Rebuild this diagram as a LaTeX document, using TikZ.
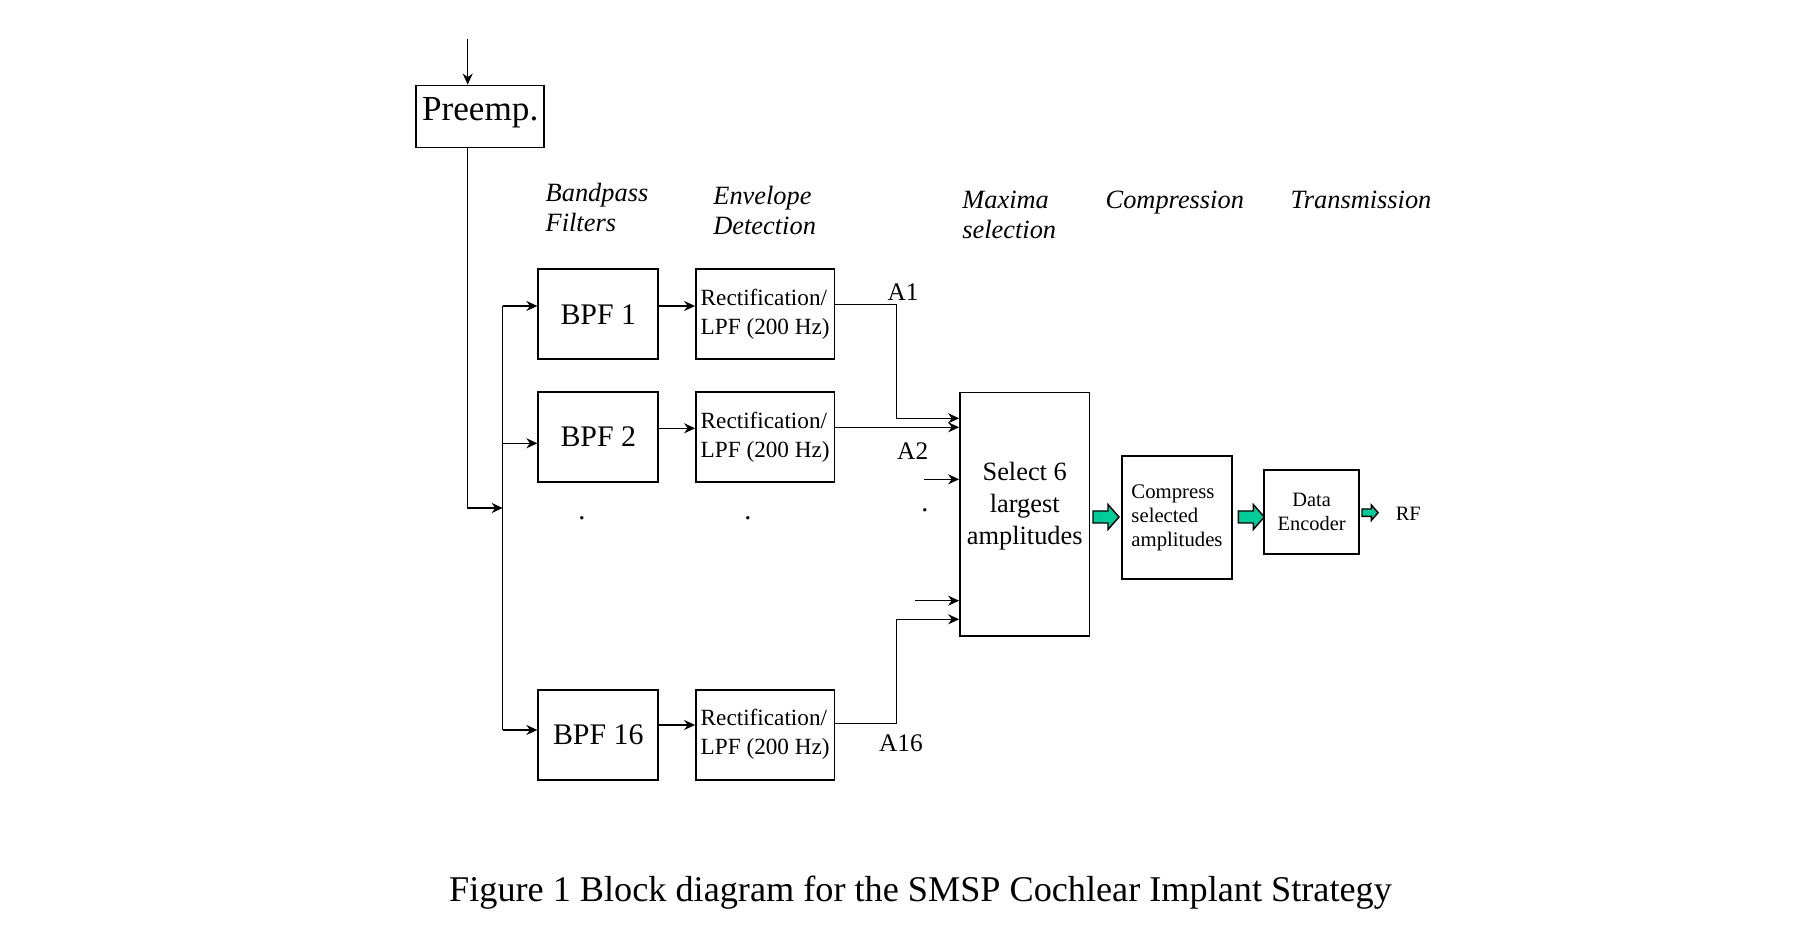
\documentclass[tikz,border=0pt]{standalone}
\usepackage{fontspec}
\setmainfont{Liberation Serif}
\usetikzlibrary{arrows.meta}

\definecolor{fillGreen}{RGB}{0,204,153}

\tikzset{
  box/.style={draw, line width=0.5pt, inner sep=0pt, align=center},
  sig/.style={-{Stealth[length=1.1mm, width=1mm]}, line width=0.45pt},
  wire/.style={line width=0.45pt},
  lbl/.style={inner sep=0pt, font=\fontsize{7.2}{8.6}\selectfont},
  heading/.style={inner sep=0pt, align=left, anchor=base west,
    font=\fontsize{7.5}{8.6}\selectfont\itshape},
  garrow/.style={draw, fill=fillGreen, line width=0.4pt},
}

\begin{document}
\begin{tikzpicture}[x=0.01cm, y=-0.01cm]%
  \useasboundingbox (0,0) rectangle (1811,943);

  % preemphasis
  \coordinate (in) at (467.7,39);
  \node[box, minimum width=1.28cm, minimum height=0.62cm, text depth=4.2pt,
    font=\fontsize{10}{12}\selectfont] (pre) at (480.2,116.5) {Preemp.};
  \draw[sig] (in) -- (in |- pre.north);

  % filter bank
  \foreach \n/\y in {1/314.3, 2/437, 16/734.7} {
    \node[box, minimum width=1.2cm, minimum height=0.9cm,
      font=\fontsize{8.5}{10}\selectfont] (bpf\n) at (598.3,\y) {BPF \n};
    \node[box, minimum width=1.383cm, minimum height=0.9cm, align=left,
      font=\fontsize{6.6}{8.3}\selectfont] (rect\n) at (765.2,\y)
      {Rectification/\\LPF (200 Hz)};
  }

  % bus
  \coordinate (split) at (502.7,508);
  \coordinate (bus1) at (502.7,306);
  \coordinate (bus2) at (502.7,443.3);
  \coordinate (bus16) at (502.7,730);
  \draw[sig] (pre.south -| in) |- (split);
  \draw[wire] (bus1) -- (bus16);
  \foreach \n in {1, 2, 16}
    \draw[sig] (bus\n) -- (bus\n -| bpf\n.west);
  \draw[sig] (bpf1.east |- 0,306) -- (rect1.west |- 0,306);
  \draw[sig] (bpf2.east |- 0,428.3) -- (rect2.west |- 0,428.3);
  \draw[sig] (bpf16.east |- 0,725) -- (rect16.west |- 0,725);

  % maxima selection
  \node[box, minimum width=1.293cm, minimum height=2.433cm, text depth=6.3pt,
    font=\fontsize{7.5}{9.1}\selectfont] (sel) at (1024.7,514.3)
    {Select 6\\largest\\amplitudes};
  \coordinate (a1) at (896.7,418.3);
  \coordinate (a16) at (896.7,619.3);
  \coordinate (x1) at (924,479.3);
  \coordinate (x2) at (915,600.7);
  \draw[sig] (rect1.east |- 0,304.3) -| (a1) -- (a1 -| sel.west);
  \draw[sig] (rect2.east |- 0,427.3) -- (sel.west |- 0,427.3);
  \draw[sig] (rect16.east |- 0,723.5) -| (a16) -- (a16 -| sel.west);
  \draw[sig] (x1) -- (x1 -| sel.west);
  \draw[sig] (x2) -- (x2 -| sel.west);

  \node[lbl] (lA1) at (903,291.7) {A1};
  \node[lbl] (lA2) at (912.7,450.7) {A2};
  \node[lbl] (lA16) at (901,743) {A16};

  % dots
  \foreach \x/\y in {582/518, 748/518, 925/510}
    \node[inner sep=0pt, font=\fontsize{8}{9}\selectfont] at (\x,\y) {.};

  % compression, encoder
  \node[box, minimum width=1.106cm, minimum height=1.236cm, align=left,
    font=\fontsize{5.9}{6.8}\selectfont] (comp) at (1177,517.5)
    {Compress\\selected\\amplitudes};
  \node[box, minimum width=0.947cm, minimum height=0.843cm,
    font=\fontsize{5.8}{6.7}\selectfont] (enc) at (1311.7,512.2)
    {Data\\Encoder};
  \node[inner sep=0pt, font=\fontsize{5.8}{7}\selectfont] (rf) at (1408.3,514) {RF};

  \foreach \x/\y/\s in {1093/517/1, 1238.3/517/1, 1362/512.7/0.62}
    \draw[garrow, shift={(\x,\y)}, scale=\s]
      (0,-6) -- (15,-6) -- (15,-12.5) -- (26,0) -- (15,12.5) -- (15,6) -- (0,6) -- cycle;

  % headings
  \node[heading] at (545,231.7) {Bandpass\\Filters};
  \node[heading] at (712.7,235) {Envelope\\Detection};
  \node[heading] at (961.7,238.3) {Maxima\\selection};
  \node[heading] at (1105,208.3) {Compression};
  \node[heading] at (1290,208.3) {Transmission};

  % caption
  \node[inner sep=0pt, font=\fontsize{10.3}{12}\selectfont] (cap) at (920.5,893)
    {Figure 1 Block diagram for the SMSP Cochlear Implant Strategy};
\end{tikzpicture}
\end{document}
